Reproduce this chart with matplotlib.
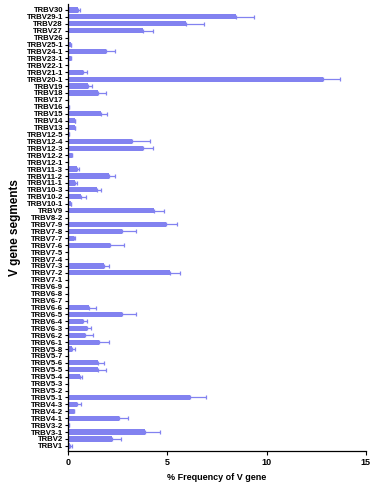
import matplotlib
matplotlib.use("Agg")
import matplotlib.pyplot as plt
import numpy as np

plt.rcParams['font.family'] = ['Liberation Sans', 'DejaVu Sans']
plt.rcParams['font.weight'] = 'bold'

# V gene segments, bottom to top
genes = ["TRBV1", "TRBV2", "TRBV3-1", "TRBV3-2", "TRBV4-1", "TRBV4-2", "TRBV4-3",
         "TRBV5-1", "TRBV5-2", "TRBV5-3", "TRBV5-4", "TRBV5-5", "TRBV5-6", "TRBV5-7", "TRBV5-8",
         "TRBV6-1", "TRBV6-2", "TRBV6-3", "TRBV6-4", "TRBV6-5", "TRBV6-6", "TRBV6-7", "TRBV6-8", "TRBV6-9",
         "TRBV7-1", "TRBV7-2", "TRBV7-3", "TRBV7-4", "TRBV7-5", "TRBV7-6", "TRBV7-7", "TRBV7-8", "TRBV7-9",
         "TRBV8-2", "TRBV9", "TRBV10-1", "TRBV10-2", "TRBV10-3", "TRBV11-1", "TRBV11-2", "TRBV11-3",
         "TRBV12-1", "TRBV12-2", "TRBV12-3", "TRBV12-4", "TRBV12-5",
         "TRBV13", "TRBV14", "TRBV15", "TRBV16", "TRBV17", "TRBV18", "TRBV19", "TRBV20-1",
         "TRBV21-1", "TRBV22-1", "TRBV23-1", "TRBV24-1", "TRBV25-1",
         "TRBV26", "TRBV27", "TRBV28", "TRBV29-1", "TRBV30"]

# % frequency (mean)
freq = [0.10, 2.23, 3.86, 0.05, 2.58, 0.30, 0.47,
        6.17, 0.0, 0.0, 0.60, 1.51, 1.51, 0.0, 0.22,
        1.56, 0.87, 0.94, 0.74, 2.72, 1.07, 0.0, 0.0, 0.0,
        0.0, 5.13, 1.81, 0.0, 0.0, 2.10, 0.30, 2.72, 4.95,
        0.0, 4.33, 0.17, 0.64, 1.46, 0.34, 2.05, 0.47,
        0.0, 0.22, 3.76, 3.25, 0.05,
        0.37, 0.34, 1.69, 0.07, 0.0, 1.54, 1.02, 12.82,
        0.74, 0.0, 0.17, 1.91, 0.17,
        0.0, 3.76, 5.94, 8.45, 0.49]

# error (upper only)
err = [0.12, 0.42, 0.77, 0.0, 0.46, 0.0, 0.17,
       0.76, 0.0, 0.0, 0.12, 0.42, 0.29, 0.0, 0.12,
       0.50, 0.37, 0.23, 0.22, 0.72, 0.37, 0.0, 0.0, 0.0,
       0.0, 0.52, 0.24, 0.0, 0.0, 0.73, 0.07, 0.69, 0.52,
       0.0, 0.50, 0.0, 0.27, 0.23, 0.10, 0.30, 0.10,
       0.0, 0.0, 0.50, 0.89, 0.0,
       0.0, 0.0, 0.29, 0.0, 0.0, 0.37, 0.20, 0.87,
       0.20, 0.0, 0.0, 0.44, 0.0,
       0.0, 0.50, 0.90, 0.91, 0.11]

bar_color = '#8282f0'

fig = plt.figure(figsize=(3.73, 4.87), dpi=100)
ax = fig.add_axes([0.182, 0.073, 0.799, 0.918])

y = np.arange(len(genes))
freq = np.array(freq)
err = np.array(err)
ax.barh(y, freq, height=0.75, color=bar_color, edgecolor='none')
ax.errorbar(freq, y, xerr=[np.zeros_like(err), err], fmt='none',
            ecolor=bar_color, elinewidth=0.9, capsize=1.5, capthick=0.9)

ax.set_yticks(y)
ax.set_yticklabels(genes, fontsize=5.6, fontweight='bold')
ax.set_ylim(-0.8, len(genes) - 0.2)
ax.set_xlim(0, 15)
ax.set_xticks([0, 5, 10, 15])
ax.tick_params(axis='x', labelsize=6.5, length=3, width=0.8, pad=2)
ax.tick_params(axis='y', length=2.5, width=0.8, pad=1)
for lab in ax.get_xticklabels():
    lab.set_fontweight('bold')

for s in ['top', 'right']:
    ax.spines[s].set_visible(False)
ax.spines['left'].set_linewidth(0.9)
ax.spines['bottom'].set_linewidth(0.9)

ax.set_xlabel('% Frequency of V gene', fontsize=6.5, fontweight='bold', labelpad=4)
ax.set_ylabel('V gene segments', fontsize=8.5, fontweight='bold', labelpad=4)

fig.savefig('out.png', dpi=100)
